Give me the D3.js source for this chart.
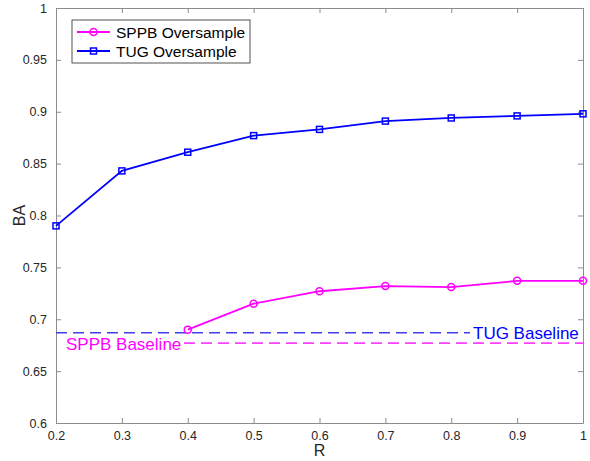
<!DOCTYPE html>
<html>
<head>
<meta charset="utf-8">
<script src="https://cdn.jsdelivr.net/npm/d3@7"></script>
<style>
  body { margin: 0; background: #fff; }
  text { font-family: "Liberation Sans", Arial, sans-serif; }
</style>
</head>
<body>
<svg id="chart" width="590" height="461"></svg>
<script>
// values
var rValues = [0.2, 0.3, 0.4, 0.5, 0.6, 0.7, 0.8, 0.9, 1.0];
var tugOversample = [0.790, 0.843, 0.861, 0.877, 0.883, 0.891, 0.894, 0.896, 0.898];
var sppbR = [0.4, 0.5, 0.6, 0.7, 0.8, 0.9, 1.0];
var sppbOversample = [0.690, 0.715, 0.727, 0.732, 0.731, 0.737, 0.737];
var tugBaseline = 0.687;
var sppbBaseline = 0.677;
var xTicks = [0.2, 0.3, 0.4, 0.5, 0.6, 0.7, 0.8, 0.9, 1];
var yTicks = [0.6, 0.65, 0.7, 0.75, 0.8, 0.85, 0.9, 0.95, 1];

var svg = d3.select("#chart");
var plotL = 56, plotR = 583, plotT = 8, plotB = 423;

var x = d3.scaleLinear().domain([0.2, 1]).range([plotL, plotR]);
var y = d3.scaleLinear().domain([0.6, 1]).range([plotB, plotT]);

var axisColor = "#8c8c8c";
var tickFmt = function (d) { return String(+d.toFixed(2)); };

// bottom + top axes (ticks inside, matlab style)
var gx = svg.append("g").attr("transform", "translate(0," + plotB + ")")
  .call(d3.axisBottom(x).tickValues(xTicks).tickSizeInner(-5).tickSizeOuter(0).tickPadding(9).tickFormat(tickFmt));
var gxt = svg.append("g").attr("transform", "translate(0," + plotT + ")")
  .call(d3.axisTop(x).tickValues(xTicks).tickSizeInner(-5).tickSizeOuter(0).tickFormat(""));
var gy = svg.append("g").attr("transform", "translate(" + plotL + ",0)")
  .call(d3.axisLeft(y).tickValues(yTicks).tickSizeInner(-5).tickSizeOuter(0).tickPadding(9).tickFormat(tickFmt));
var gyr = svg.append("g").attr("transform", "translate(" + plotR + ",0)")
  .call(d3.axisRight(y).tickValues(yTicks).tickSizeInner(-5).tickSizeOuter(0).tickFormat(""));

[gx, gxt, gy, gyr].forEach(function (g) {
  g.selectAll("path, line").attr("stroke", axisColor).attr("stroke-width", 1);
  g.selectAll("text").attr("fill", "#262626").style("font-size", "12.5px")
    .style("font-family", "Liberation Sans, Arial, sans-serif");
});
gx.selectAll("text").attr("dy", "0.6em");

// axis titles
svg.append("text").attr("x", (plotL + plotR) / 2).attr("y", 456)
  .attr("text-anchor", "middle").style("font-size", "16px").attr("fill", "#262626").text("R");
svg.append("text").attr("transform", "translate(25," + ((plotT + plotB) / 2) + ") rotate(-90)")
  .attr("text-anchor", "middle").style("font-size", "16px").attr("fill", "#262626").text("BA");

var blue = "#0000ff", magenta = "#ff00ff";

// baselines
svg.append("line").attr("x1", x(0.2)).attr("x2", 470)
  .attr("y1", y(tugBaseline)).attr("y2", y(tugBaseline))
  .attr("stroke", "#4040ee").attr("stroke-width", 1.6).attr("stroke-dasharray", "11,6");
svg.append("text").attr("x", 473).attr("y", y(tugBaseline) + 6)
  .style("font-size", "17px").attr("fill", blue).text("TUG Baseline");

svg.append("line").attr("x1", 184).attr("x2", x(1))
  .attr("y1", y(sppbBaseline)).attr("y2", y(sppbBaseline))
  .attr("stroke", "#ff40ff").attr("stroke-width", 1.6).attr("stroke-dasharray", "11,6");
svg.append("text").attr("x", 66).attr("y", y(sppbBaseline) + 7)
  .style("font-size", "17px").attr("fill", magenta).text("SPPB Baseline");

// series
var line = d3.line().x(function (d) { return x(d[0]); }).y(function (d) { return y(d[1]); });
var tugData = d3.zip(rValues, tugOversample);
var sppbData = d3.zip(sppbR, sppbOversample);

svg.append("path").datum(tugData).attr("d", line)
  .attr("fill", "none").attr("stroke", blue).attr("stroke-width", 1.8);
svg.selectAll(".tugMark").data(tugData).enter().append("rect")
  .attr("x", function (d) { return x(d[0]) - 3; }).attr("y", function (d) { return y(d[1]) - 3; })
  .attr("width", 6).attr("height", 6)
  .attr("fill", "none").attr("stroke", blue).attr("stroke-width", 1.5);

svg.append("path").datum(sppbData).attr("d", line)
  .attr("fill", "none").attr("stroke", magenta).attr("stroke-width", 1.8);
svg.selectAll(".sppbMark").data(sppbData).enter().append("circle")
  .attr("cx", function (d) { return x(d[0]); }).attr("cy", function (d) { return y(d[1]); })
  .attr("r", 3.5).attr("fill", "none").attr("stroke", magenta).attr("stroke-width", 1.5);

// legend
var lg = svg.append("g").attr("transform", "translate(72,20)");
lg.append("rect").attr("width", 178).attr("height", 43)
  .attr("fill", "#fff").attr("stroke", "#262626").attr("stroke-width", 0.8);
var legendItems = [
  { label: "SPPB Oversample", color: magenta, shape: "circle" },
  { label: "TUG Oversample", color: blue, shape: "square" }
];
legendItems.forEach(function (it, i) {
  var cy = 12 + i * 19;
  lg.append("line").attr("x1", 5).attr("x2", 38).attr("y1", cy).attr("y2", cy)
    .attr("stroke", it.color).attr("stroke-width", 1.8);
  if (it.shape === "circle") {
    lg.append("circle").attr("cx", 21.5).attr("cy", cy).attr("r", 3.5)
      .attr("fill", "none").attr("stroke", it.color).attr("stroke-width", 1.5);
  } else {
    lg.append("rect").attr("x", 18.5).attr("y", cy - 3).attr("width", 6).attr("height", 6)
      .attr("fill", "none").attr("stroke", it.color).attr("stroke-width", 1.5);
  }
  lg.append("text").attr("x", 44).attr("y", cy + 5.5)
    .style("font-size", "15.5px").attr("fill", "#000").text(it.label);
});
</script>
</body>
</html>
